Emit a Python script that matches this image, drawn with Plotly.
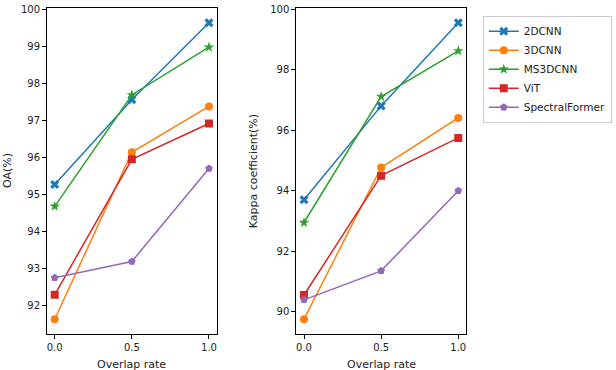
import plotly.graph_objects as go

x_vals = [0.0, 0.5, 1.0]
models = ["2DCNN", "3DCNN", "MS3DCNN", "ViT", "SpectralFormer"]
oa = {
    "2DCNN": [95.28, 97.57, 99.65],
    "3DCNN": [91.64, 96.15, 97.39],
    "MS3DCNN": [94.69, 97.70, 98.99],
    "ViT": [92.30, 95.96, 96.93],
    "SpectralFormer": [92.76, 93.20, 95.71],
}
kappa = {
    "2DCNN": [93.70, 96.81, 99.56],
    "3DCNN": [89.75, 94.77, 96.41],
    "MS3DCNN": [92.95, 97.12, 98.63],
    "ViT": [90.55, 94.50, 95.75],
    "SpectralFormer": [90.39, 91.35, 94.00],
}
colors = ["#1f77b4", "#ff7f0e", "#2ca02c", "#d62728", "#9467bd"]
symbols = ["x", "circle", "star", "square", "pentagon"]
sizes = [8, 8, 8, 8, 8]

fig = go.Figure()
for i, m in enumerate(models):
    fig.add_trace(go.Scatter(
        x=x_vals, y=oa[m], mode="lines+markers", name=m,
        line=dict(color=colors[i], width=1.5),
        marker=dict(symbol=symbols[i], size=sizes[i], color=colors[i]),
        xaxis="x", yaxis="y", legendgroup=m, showlegend=True))
    fig.add_trace(go.Scatter(
        x=x_vals, y=kappa[m], mode="lines+markers", name=m,
        line=dict(color=colors[i], width=1.5),
        marker=dict(symbol=symbols[i], size=sizes[i], color=colors[i]),
        xaxis="x2", yaxis="y2", legendgroup=m, showlegend=False))

axis_common = dict(showline=True, mirror=True, linecolor="black", linewidth=1,
                   ticks="outside", ticklen=4, tickcolor="black", showgrid=False,
                   zeroline=False, tickfont=dict(size=10, color="#222"))

fig.update_layout(
    width=616, height=370,
    margin=dict(l=47, r=147, t=4, b=36),
    plot_bgcolor="white", paper_bgcolor="white",
    font=dict(family="DejaVu Sans", size=10, color="#222"),
    xaxis=dict(domain=[0, 0.405], range=[-0.05, 1.05], tickvals=[0, 0.5, 1.0],
               ticktext=["0.0", "0.5", "1.0"], anchor="y", **axis_common),
    yaxis=dict(range=[91.24, 100.05], tickvals=list(range(92, 101)), anchor="x", **axis_common),
    xaxis2=dict(domain=[0.595, 1.0], range=[-0.05, 1.05], tickvals=[0, 0.5, 1.0],
                ticktext=["0.0", "0.5", "1.0"], anchor="y2", **axis_common),
    yaxis2=dict(range=[89.26, 100.05], tickvals=list(range(90, 101, 2)), anchor="x2", **axis_common),
    legend=dict(x=1.040, y=0.976, xanchor="left", yanchor="top",
                bordercolor="#cccccc", borderwidth=1, bgcolor="white",
                font=dict(size=10.5, color="#222"), tracegroupgap=0, itemwidth=30),
    showlegend=True,
)

fig.add_annotation(text="Overlap rate", xref="x", yref="paper", x=0.5, y=0, yshift=-30,
                   showarrow=False, font=dict(size=11, color="#222"), yanchor="middle")
fig.add_annotation(text="Overlap rate", xref="x2", yref="paper", x=0.5, y=0, yshift=-30,
                   showarrow=False, font=dict(size=11, color="#222"), yanchor="middle")
fig.add_annotation(text="OA(%)", xref="paper", yref="paper", x=0, xshift=-40, y=0.5,
                   xanchor="center", yanchor="middle",
                   textangle=-90, showarrow=False, font=dict(size=11, color="#222"))
fig.add_annotation(text="Kappa coefficient(%)", xref="x2 domain", yref="paper", x=0, xshift=-43, y=0.5,
                   xanchor="center", yanchor="middle",
                   textangle=-90, showarrow=False, font=dict(size=11, color="#222"))

fig.write_html("out.html", config={"displayModeBar": False},
               post_script="document.body.style.margin='0';")
